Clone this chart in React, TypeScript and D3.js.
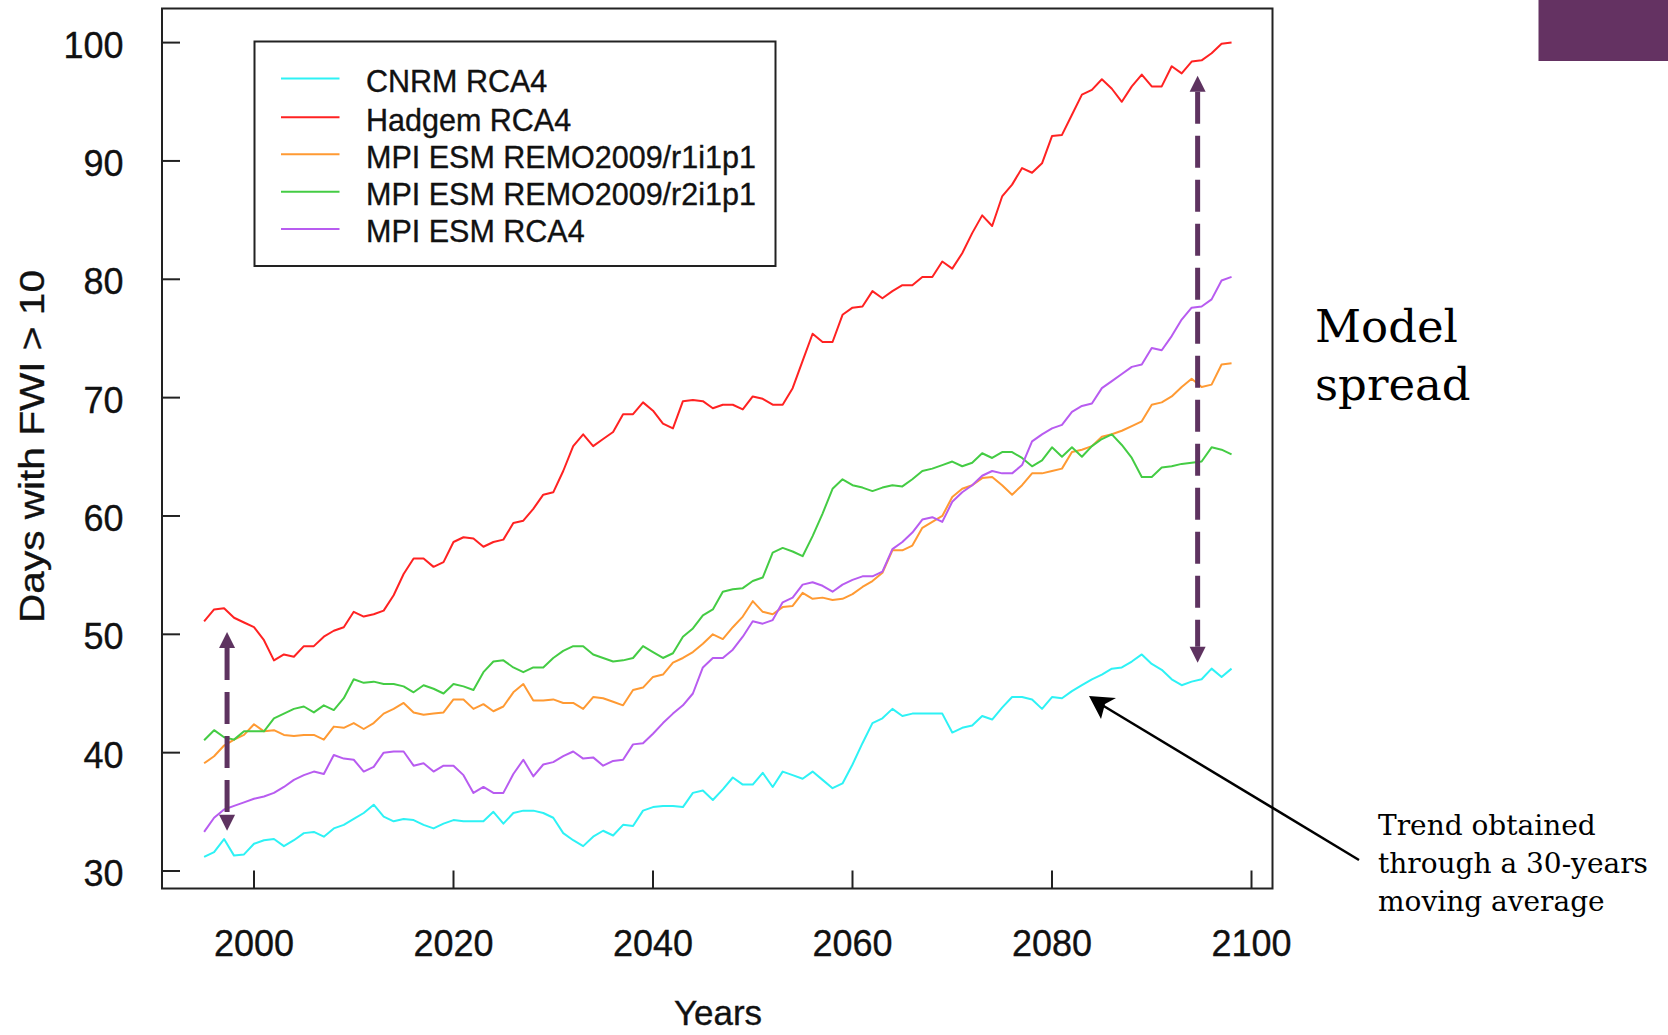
import React from "react";
import * as d3 from "d3";

const years: number[] = d3.range(1995, 2099);

const cnrmRCA4: number[] = [
  31.2, 31.6, 32.7, 31.3, 31.4, 32.3, 32.6, 32.7, 32.1, 32.6,
  33.2, 33.3, 32.9, 33.6, 33.9, 34.4, 34.9, 35.6, 34.6, 34.2,
  34.4, 34.3, 33.9, 33.6, 34.0, 34.3, 34.2, 34.2, 34.2, 35.0,
  34.0, 34.9, 35.1, 35.1, 34.9, 34.5, 33.2, 32.6, 32.1, 32.9,
  33.4, 33.0, 33.9, 33.8, 35.1, 35.4, 35.5, 35.5, 35.4, 36.6,
  36.8, 36.0, 36.9, 37.9, 37.3, 37.3, 38.3, 37.1, 38.4, 38.1,
  37.8, 38.4, 37.7, 37.0, 37.4, 39.0, 40.8, 42.5, 42.9, 43.7,
  43.1, 43.3, 43.3, 43.3, 43.3, 41.7, 42.1, 42.3, 43.1, 42.8,
  43.8, 44.7, 44.7, 44.5, 43.7, 44.7, 44.6, 45.2, 45.7, 46.2,
  46.6, 47.1, 47.2, 47.7, 48.3, 47.5, 47.0, 46.2, 45.7, 46.0,
  46.2, 47.1, 46.4, 47.1,
];

const hadgemRCA4: number[] = [
  51.1, 52.1, 52.2, 51.4, 51.0, 50.6, 49.5, 47.8, 48.3, 48.1,
  49.0, 49.0, 49.8, 50.3, 50.6, 51.9, 51.5, 51.7, 52.0, 53.3,
  55.1, 56.4, 56.4, 55.7, 56.1, 57.8, 58.2, 58.1, 57.4, 57.8,
  58.0, 59.4, 59.6, 60.6, 61.8, 62.0, 63.8, 65.9, 66.9, 65.9,
  66.5, 67.1, 68.6, 68.6, 69.6, 68.9, 67.8, 67.4, 69.7, 69.8,
  69.7, 69.1, 69.4, 69.4, 69.0, 70.1, 69.9, 69.4, 69.4, 70.8,
  73.1, 75.4, 74.7, 74.7, 77.0, 77.6, 77.7, 79.0, 78.4, 79.0,
  79.5, 79.5, 80.2, 80.2, 81.5, 80.9, 82.2, 83.9, 85.4, 84.5,
  87.0, 88.0, 89.4, 89.0, 89.8, 92.1, 92.2, 93.9, 95.6, 96.0,
  96.9, 96.1, 95.0, 96.3, 97.3, 96.3, 96.3, 98.0, 97.4, 98.4,
  98.5, 99.1, 99.9, 100.0,
];

const mpiRemoR1: number[] = [
  39.1, 39.7, 40.6, 41.1, 41.5, 42.4, 41.8, 41.9, 41.5, 41.4,
  41.5, 41.5, 41.1, 42.2, 42.1, 42.5, 42.0, 42.5, 43.3, 43.7,
  44.2, 43.4, 43.2, 43.3, 43.4, 44.5, 44.5, 43.7, 44.1, 43.5,
  43.9, 45.1, 45.8, 44.4, 44.4, 44.5, 44.2, 44.2, 43.7, 44.7,
  44.6, 44.3, 44.0, 45.3, 45.5, 46.4, 46.6, 47.6, 48.0, 48.5,
  49.2, 50.0, 49.6, 50.6, 51.5, 52.8, 51.9, 51.7, 52.3, 52.4,
  53.5, 53.0, 53.1, 52.9, 53.0, 53.4, 54.0, 54.5, 55.2, 57.1,
  57.1, 57.5, 59.0, 59.5, 60.0, 61.6, 62.3, 62.6, 63.2, 63.3,
  62.6, 61.8, 62.6, 63.6, 63.6, 63.8, 64.0, 65.4, 65.6, 65.9,
  66.7, 66.9, 67.2, 67.6, 68.0, 69.4, 69.6, 70.1, 70.9, 71.6,
  70.9, 71.1, 72.8, 72.9,
];

const mpiRemoR2: number[] = [
  41.05, 41.9, 41.3, 41.1, 41.8, 41.8, 41.8, 42.9, 43.3, 43.7,
  43.9, 43.4, 44.0, 43.6, 44.6, 46.2, 45.9, 46.0, 45.8, 45.8,
  45.6, 45.1, 45.7, 45.4, 45.0, 45.8, 45.6, 45.3, 46.8, 47.7,
  47.8, 47.2, 46.8, 47.2, 47.2, 48.0, 48.6, 49.0, 49.0, 48.3,
  48.0, 47.7, 47.8, 48.0, 49.0, 48.5, 48.0, 48.4, 49.8, 50.5,
  51.6, 52.1, 53.6, 53.8, 53.9, 54.5, 54.8, 56.9, 57.3, 57.0,
  56.6, 58.3, 60.2, 62.3, 63.1, 62.6, 62.4, 62.1, 62.4, 62.6,
  62.5, 63.1, 63.8, 64.0, 64.3, 64.6, 64.2, 64.5, 65.3, 64.9,
  65.4, 65.4, 64.9, 64.2, 64.7, 65.8, 65.0, 65.8, 65.0, 65.9,
  66.5, 66.9, 66.0, 64.9, 63.3, 63.3, 64.1, 64.2, 64.4, 64.5,
  64.6, 65.8, 65.6, 65.2,
];

const mpiRCA4: number[] = [
  33.3, 34.5, 35.2, 35.5, 35.8, 36.1, 36.3, 36.6, 37.1, 37.7,
  38.1, 38.4, 38.2, 39.8, 39.5, 39.4, 38.4, 38.8, 40.0, 40.1,
  40.1, 38.9, 39.1, 38.4, 38.9, 38.9, 38.1, 36.6, 37.1, 36.6,
  36.6, 38.2, 39.4, 38.0, 39.0, 39.2, 39.7, 40.1, 39.5, 39.6,
  38.9, 39.3, 39.4, 40.7, 40.8, 41.6, 42.5, 43.3, 44.0, 45.0,
  47.2, 48.0, 48.0, 48.7, 49.8, 51.1, 50.9, 51.2, 52.7, 53.1,
  54.2, 54.4, 54.1, 53.6, 54.2, 54.6, 54.9, 54.9, 55.3, 57.2,
  57.8, 58.6, 59.7, 59.9, 59.5, 61.2, 62.0, 62.6, 63.4, 63.8,
  63.6, 63.6, 64.3, 66.3, 66.9, 67.4, 67.7, 68.8, 69.3, 69.5,
  70.8, 71.4, 72.0, 72.6, 72.8, 74.2, 74.0, 75.2, 76.6, 77.6,
  77.7, 78.3, 79.9, 80.2,
];

const seriesNames: string[] = [
  "CNRM RCA4",
  "Hadgem RCA4",
  "MPI ESM REMO2009/r1i1p1",
  "MPI ESM REMO2009/r2i1p1",
  "MPI ESM RCA4",
];
const seriesValues: number[][] = [cnrmRCA4, hadgemRCA4, mpiRemoR1, mpiRemoR2, mpiRCA4];
const seriesColors: string[] = ["#2EF2F5", "#FF2222", "#FF9A33", "#44CC44", "#B85CF0"];

const xTicks: number[] = [2000, 2020, 2040, 2060, 2080, 2100];
const yTicks: number[] = [30, 40, 50, 60, 70, 80, 90, 100];

const spreadArrows: { year: number; from: number; to: number }[] = [
  { year: 1997.3, from: 50.2, to: 33.4 },
  { year: 2094.6, from: 97.2, to: 47.6 },
];

const W = 1668;
const H = 1035;
const box = { left: 162, top: 8.5, right: 1272.5, bottom: 888.5 };

export default function App() {
  const x = d3.scaleLinear().domain([2000, 2100]).range([254, 1251.5]);
  const y = d3.scaleLinear().domain([30, 100]).range([871, 42.6]);

  const line = d3
    .line<number>()
    .x((_, i) => x(years[i]))
    .y((v) => y(v));

  const font = "'Liberation Sans', Arial, sans-serif";
  const serif = "'DejaVu Serif', serif";
  const arrowColor = "#5E3360";
  const textStroke = { stroke: "#111", strokeWidth: 0.35 };

  const legendLineY = [78.5, 117.3, 154.3, 191.7, 228.9];

  return (
    <div style={{ position: "fixed", left: 0, top: 0, width: W, height: H, background: "#fff" }}>
      <svg width={W} height={H} viewBox={`0 0 ${W} ${H}`} style={{ display: "block" }}>
        <rect x={0} y={0} width={W} height={H} fill="#fff" />
        {/* purple corner block */}
        <rect x={1538.5} y={0} width={W - 1538.5} height={61} fill="#643262" />

        {/* data lines */}
        {seriesValues.map((vals, i) => (
          <path
            key={seriesNames[i]}
            d={line(vals) || ""}
            fill="none"
            stroke={seriesColors[i]}
            strokeWidth={2}
            strokeLinejoin="round"
          />
        ))}

        {/* plot box */}
        <rect
          x={box.left}
          y={box.top}
          width={box.right - box.left}
          height={box.bottom - box.top}
          fill="none"
          stroke="#222"
          strokeWidth={2}
        />

        {/* y ticks */}
        {yTicks.map((t) => (
          <g key={"y" + t}>
            <line x1={box.left} x2={box.left + 18} y1={y(t)} y2={y(t)} stroke="#222" strokeWidth={2} />
            <text
              x={123.5}
              y={y(t) + 15}
              textAnchor="end"
              fontFamily={font}
              fontSize={36}
              fill="#111"
              {...textStroke}
            >
              {t}
            </text>
          </g>
        ))}

        {/* x ticks */}
        {xTicks.map((t) => (
          <g key={"x" + t}>
            <line x1={x(t)} x2={x(t)} y1={box.bottom} y2={box.bottom - 18} stroke="#222" strokeWidth={2} />
            <text
              x={x(t)}
              y={956}
              textAnchor="middle"
              fontFamily={font}
              fontSize={36}
              fill="#111"
              {...textStroke}
            >
              {t}
            </text>
          </g>
        ))}

        {/* axis titles */}
        <text
          x={718}
          y={1025}
          textAnchor="middle"
          fontFamily={font}
          fontSize={35}
          fill="#111"
          {...textStroke}
        >
          Years
        </text>
        <text
          transform={`translate(43.5, 446.5) rotate(-90)`}
          textAnchor="middle"
          fontFamily={font}
          fontSize={35}
          fill="#111"
          textLength={353}
          lengthAdjust="spacingAndGlyphs"
          {...textStroke}
        >
          Days with FWI &gt; 10
        </text>

        {/* legend */}
        <rect x={254.5} y={41.5} width={521} height={224.5} fill="#fff" stroke="#222" strokeWidth={2} />
        {seriesNames.map((name, i) => (
          <g key={"leg" + i}>
            <line
              x1={281}
              x2={339.5}
              y1={legendLineY[i]}
              y2={legendLineY[i]}
              stroke={seriesColors[i]}
              strokeWidth={2}
            />
            <text
              x={366}
              y={legendLineY[i] + 13.5}
              fontFamily={font}
              fontSize={30.5}
              fill="#111"
              {...textStroke}
            >
              {name}
            </text>
          </g>
        ))}

        {/* spread arrows */}
        {spreadArrows.map((a, i) => {
          const ax = x(a.year);
          const yTop = y(a.from);
          const yBot = y(a.to);
          const hl = 16;
          const hw = 8;
          return (
            <g key={"arr" + i}>
              <line
                x1={ax}
                x2={ax}
                y1={yTop + hl}
                y2={yBot - hl}
                stroke={arrowColor}
                strokeWidth={5}
                strokeDasharray="32 12"
              />
              <path
                d={`M${ax},${yTop} L${ax + hw},${yTop + hl} L${ax - hw},${yTop + hl} Z`}
                fill={arrowColor}
              />
              <path
                d={`M${ax},${yBot} L${ax + hw},${yBot - hl} L${ax - hw},${yBot - hl} Z`}
                fill={arrowColor}
              />
            </g>
          );
        })}

        {/* trend annotation arrow */}
        <line x1={1359} y1={860} x2={1097} y2={702} stroke="#000" strokeWidth={2.5} />
        <path d="M1089,696 L1116,698 L1105,704 L1101,719 Z" fill="#000" />

        {/* text annotations */}
        <text x={1315} y={341.5} fontFamily={serif} fontSize={45} fill="#000">
          Model
        </text>
        <text x={1315} y={399.5} fontFamily={serif} fontSize={45} fill="#000">
          spread
        </text>
        <text fontFamily={serif} fontSize={28} fill="#000">
          <tspan x={1378} y={835}>Trend obtained</tspan>
          <tspan x={1378} y={873}>through a 30-years</tspan>
          <tspan x={1378} y={911}>moving average</tspan>
        </text>
      </svg>
    </div>
  );
}
